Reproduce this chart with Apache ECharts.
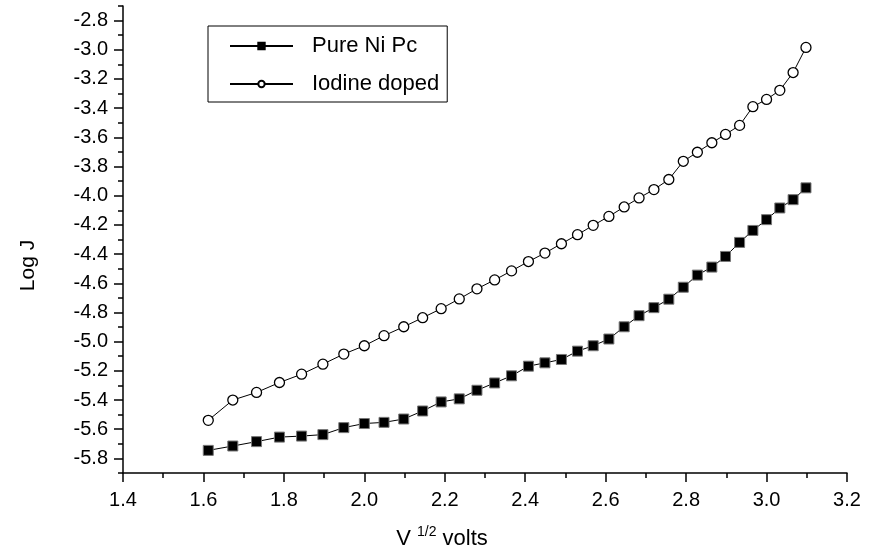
<!DOCTYPE html>
<html>
<head>
<meta charset="utf-8">
<script src="https://cdn.jsdelivr.net/npm/echarts@6/dist/echarts.min.js"></script>
<style>
html,body{margin:0;padding:0;background:#fff;}
#chart{width:877px;height:556px;}
</style>
</head>
<body>
<div id="chart"></div>
<script>
// V^(1/2) values (x)
const xValues = [1.612, 1.673, 1.732, 1.789, 1.844, 1.897, 1.949, 2.000, 2.049, 2.098,
  2.145, 2.191, 2.236, 2.280, 2.324, 2.366, 2.408, 2.449, 2.490, 2.530,
  2.569, 2.608, 2.646, 2.683, 2.720, 2.757, 2.793, 2.828, 2.864, 2.898,
  2.933, 2.966, 3.000, 3.033, 3.066, 3.098];
// Log J, Pure Ni Pc
const pureNiPc = [-5.745, -5.715, -5.685, -5.654, -5.647, -5.637, -5.589, -5.561, -5.553, -5.530,
  -5.475, -5.413, -5.392, -5.333, -5.283, -5.234, -5.168, -5.145, -5.122, -5.065,
  -5.028, -4.982, -4.898, -4.822, -4.767, -4.709, -4.627, -4.544, -4.489, -4.416,
  -4.320, -4.238, -4.164, -4.084, -4.027, -3.946];
// Log J, Iodine doped
const iodineDoped = [-5.539, -5.400, -5.348, -5.280, -5.223, -5.154, -5.085, -5.028, -4.959, -4.898,
  -4.836, -4.774, -4.707, -4.638, -4.577, -4.515, -4.451, -4.393, -4.329, -4.267,
  -4.203, -4.142, -4.077, -4.015, -3.958, -3.889, -3.764, -3.702, -3.637, -3.580,
  -3.518, -3.390, -3.340, -3.278, -3.156, -2.984];
const yMajorTicks = [-5.8, -5.6, -5.4, -5.2, -5.0, -4.8, -4.6, -4.4, -4.2, -4.0, -3.8, -3.6, -3.4, -3.2, -3.0, -2.8];
const yMinorTicks = [-5.9, -5.7, -5.5, -5.3, -5.1, -4.9, -4.7, -4.5, -4.3, -4.1, -3.9, -3.7, -3.5, -3.3, -3.1, -2.9, -2.7];
const seriesNames = ['Pure Ni Pc', 'Iodine doped'];

const FONT = '"Liberation Sans", Arial, Helvetica, sans-serif';
const chart = echarts.init(document.getElementById('chart'), null, {renderer: 'canvas'});

const yBase = {
  type: 'value', min: -5.9, max: -2.7, position: 'left', splitLine: {show: false}
};

chart.setOption({
  animation: false,
  backgroundColor: '#fff',
  grid: {left: 123, right: 30, top: 6, bottom: 83, containLabel: false},
  legend: {
    orient: 'vertical', left: 208, top: 26,
    borderColor: '#000', borderWidth: 1, borderRadius: 0,
    padding: [9, 8, 7, 21],
    itemGap: 16, itemWidth: 63, itemHeight: 8,
    textStyle: {fontSize: 22, color: '#000', fontFamily: FONT, padding: [0, 0, 0, 14]},
    data: [
      {name: seriesNames[0], itemStyle: {color: '#000', borderColor: '#000'}},
      {name: seriesNames[1]}
    ]
  },
  xAxis: {
    type: 'value', min: 1.4, max: 3.2, interval: 0.2,
    axisLine: {show: true, onZero: false, lineStyle: {color: '#000', width: 1.5}},
    axisTick: {show: true, inside: false, length: 9, lineStyle: {color: '#000', width: 1.5}},
    minorTick: {show: true, splitNumber: 2, length: 5, lineStyle: {color: '#000', width: 1.5}},
    splitLine: {show: false},
    axisLabel: {fontSize: 20, color: '#000', fontFamily: FONT, margin: 17,
      formatter: v => v.toFixed(1)},
    name: '{a|V }{b|1/2}{a| volts}',
    nameLocation: 'middle', nameGap: 52,
    nameTextStyle: {
      fontFamily: FONT, color: '#000', fontSize: 22, padding: [0, 86, 0, 0],
      rich: {
        a: {fontSize: 22, fontFamily: FONT, color: '#000'},
        b: {fontSize: 14, fontFamily: FONT, color: '#000', padding: [0, 0, 13, 0]}
      }
    }
  },
  yAxis: [
    Object.assign({}, yBase, {
      axisLine: {show: true, onZero: false, lineStyle: {color: '#000', width: 1.5}},
      axisTick: {show: true, inside: false, length: 9, customValues: yMajorTicks, lineStyle: {color: '#000', width: 1.5}},
      axisLabel: {fontSize: 20, color: '#000', fontFamily: FONT, margin: 15,
        customValues: yMajorTicks, formatter: v => v.toFixed(1)},
      name: 'Log J', nameLocation: 'middle', nameGap: 84, nameRotate: 90,
      nameTextStyle: {fontFamily: FONT, color: '#000', fontSize: 21, padding: [0, 52, 0, 0]}
    }),
    Object.assign({}, yBase, {
      axisLine: {show: false, onZero: false},
      axisTick: {show: true, inside: false, length: 5, customValues: yMinorTicks, lineStyle: {color: '#000', width: 1.5}},
      axisLabel: {show: false}
    })
  ],
  series: [
    {
      name: seriesNames[0], type: 'line', yAxisIndex: 0,
      data: xValues.map((x, i) => [x, pureNiPc[i]]),
      symbol: 'rect', symbolSize: 10, showAllSymbol: true,
      lineStyle: {color: '#000', width: 1},
      itemStyle: {color: '#000', borderColor: '#777', borderWidth: 1},
      z: 3
    },
    {
      name: seriesNames[1], type: 'line', yAxisIndex: 0,
      data: xValues.map((x, i) => [x, iodineDoped[i]]),
      symbol: 'circle', symbolSize: 10, showAllSymbol: true,
      lineStyle: {color: '#000', width: 1},
      itemStyle: {color: '#fff', borderColor: '#000', borderWidth: 1.3},
      z: 3
    }
  ]
});
</script>
</body>
</html>
